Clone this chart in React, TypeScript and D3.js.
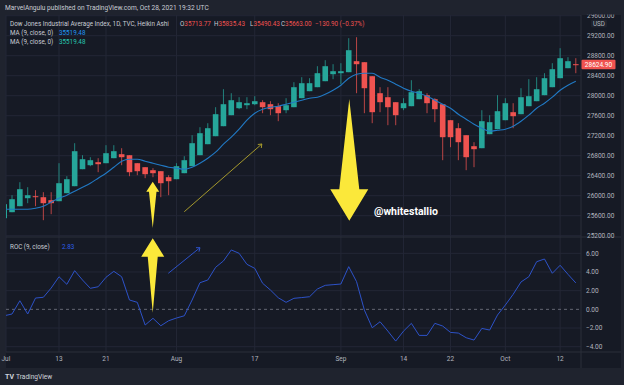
import React, { useEffect, useRef } from "react";
import * as d3 from "d3";

// Heikin Ashi candles, Jul 1 - Oct 14 (one entry per trading day)
const opens = [25550, 25670, 25790, 25950, 25990, 25970, 25910, 25890, 26050, 26190,
  26530, 26610, 26670, 26650, 26750, 26830, 26810, 26650, 26570, 26510,
  26490, 26370, 26330, 26450, 26590, 26810, 27030, 27190, 27390, 27610,
  27750, 27810, 27830, 27870, 27830, 27790, 27710, 27770, 27950, 28090,
  28170, 28290, 28430, 28450, 28470, 28690, 28670, 28390, 28050, 27970,
  27870, 27750, 27790, 27930, 28010, 27930, 27830, 27510, 27350, 27210,
  26990, 26950, 27230, 27330, 27510, 27670, 27630, 27790, 27890, 28010,
  28170, 28350, 28550, 28630];
const highs = [25950, 26010, 26270, 26170, 26110, 26070, 26070, 26650, 26390, 27050,
  26810, 26770, 26750, 27010, 27010, 26950, 26810, 26650, 26570, 26550,
  26490, 26410, 26650, 26790, 27210, 27370, 27450, 27770, 28130, 28050,
  27970, 27970, 27990, 27910, 27890, 27850, 27950, 28270, 28370, 28350,
  28590, 28710, 28630, 28650, 29150, 29170, 28670, 28390, 28170, 28170,
  27870, 27950, 28310, 28130, 28050, 27950, 27830, 27510, 27450, 27210,
  27070, 27710, 27610, 28010, 27950, 27850, 28150, 28330, 28370, 28450,
  28650, 28950, 28770, 28750];
const lows = [25550, 25670, 25790, 25850, 25790, 25510, 25630, 25890, 26050, 26190,
  26530, 26590, 26470, 26650, 26750, 26610, 26390, 26410, 26350, 26370,
  25970, 26010, 26330, 26450, 26590, 26810, 27030, 27190, 27390, 27610,
  27730, 27730, 27810, 27650, 27610, 27490, 27650, 27770, 27950, 28090,
  28170, 28290, 28330, 28230, 28470, 28050, 27650, 27450, 27670, 27410,
  27410, 27710, 27790, 27930, 27650, 27470, 26710, 26970, 26710, 26510,
  26570, 26950, 27230, 27330, 27510, 27350, 27630, 27790, 27890, 28010,
  28170, 28350, 28550, 28450];
const closes = [25830, 25930, 26130, 26010, 25970, 25850, 25850, 26250, 26330, 26890,
  26730, 26710, 26630, 26850, 26890, 26770, 26470, 26490, 26430, 26450,
  26250, 26290, 26590, 26710, 27050, 27250, 27350, 27630, 27830, 27910,
  27870, 27850, 27890, 27770, 27730, 27650, 27810, 28170, 28250, 28250,
  28450, 28590, 28490, 28490, 28910, 28630, 28150, 27670, 27870, 27770,
  27610, 27850, 28070, 28090, 27850, 27730, 27170, 27170, 27070, 26770,
  26930, 27490, 27470, 27690, 27850, 27590, 27970, 27990, 28130, 28350,
  28530, 28750, 28690, 28610];
const maValues = [25730, 25730, 25730, 25730, 25750, 25790, 25870, 25950, 26010, 26090,
  26170, 26250, 26350, 26450, 26570, 26690, 26730, 26730, 26690, 26650,
  26610, 26570, 26550, 26530, 26570, 26650, 26750, 26870, 27030, 27170,
  27330, 27510, 27650, 27730, 27770, 27790, 27830, 27870, 27910, 27950,
  27970, 28030, 28110, 28210, 28350, 28430, 28450, 28450, 28370, 28310,
  28230, 28150, 28090, 28050, 27990, 27910, 27830, 27750, 27630, 27530,
  27430, 27350, 27290, 27310, 27330, 27390, 27490, 27610, 27750, 27850,
  27970, 28110, 28210, 28290];
const rocValues = [-0.69, -0.5, 0.92, -0.5, 1.21, 1.29, 2.28, 3.49, 2.68, 4.14,
  3.14, 2.25, 2.42, 3.43, 4.07, 3.49, 1.0, 0.75, -1.68, -0.96,
  -1.76, -1.22, -0.93, -0.69, 1.0, 2.85, 3.14, 4.5, 5.18, 6.36,
  6.0, 4.82, 4.39, 2.79, 2.07, 1.24, 0.75, 1.18, 1.26, 1.35,
  2.18, 2.57, 2.64, 2.71, 4.57, 2.96, -0.08, -1.97, -1.33, -2.33,
  -3.4, -2.33, -1.5, -2.79, -2.79, -1.5, -1.79, -2.47, -2.54, -3.04,
  -3.29, -2.04, -2.22, -0.61, 0.46, 1.61, 2.93, 3.49, 5.1, 5.39,
  3.86, 4.72, 3.75, 2.83];

const priceTicks = [29600, 29200, 28800, 28400, 28000, 27600, 27200, 26800, 26400, 26000, 25600, 25200];
const rocTicks = [6, 4, 2, 0, -2, -4];
const dateTicks = [0, 7, 13, 22, 32, 43, 51, 57, 64, 71];
const dateLabels = ["Jul", "13", "21", "Aug", "17", "Sep", "14", "22", "Oct", "12"];
const lastPrice = 28624.9;

const GREEN = "#26a69a";
const RED = "#ef5350";
const FONT = "Roboto, sans-serif";

export default function App() {
  const ref = useRef<SVGSVGElement>(null);

  useEffect(() => {
    const svg = d3.select(ref.current);
    svg.selectAll("*").remove();

    const left = 6, right = 581;
    const priceTop = 15, priceBottom = 237, rocBottom = 352;

    const x = d3.scaleLinear().domain([0, closes.length - 1]).range([4.2, 575.8]);
    const yP = d3.scaleLinear().domain([25200, 29600]).range([235.7, 15.7]);
    const yR = d3.scaleLinear().domain([-4, 6]).range([346.7, 253.3]);

    // background
    svg.append("rect").attr("width", 624).attr("height", 385).attr("fill", "#1f232e");
    svg.append("rect").attr("x", left).attr("y", priceTop).attr("width", 621 - left).attr("height", 368 - priceTop).attr("fill", "#161a25");

    svg.append("text").attr("x", 5).attr("y", 9.5).attr("fill", "#c9ccd4")
      .style("font-family", FONT).style("font-size", "6.6px")
      .text("MarvelAngulu published on TradingView.com, Oct 28, 2021 19:32 UTC");

    const defs = svg.append("defs");
    defs.append("clipPath").attr("id", "clipPrice").append("rect")
      .attr("x", left).attr("y", priceTop).attr("width", right - left).attr("height", priceBottom - priceTop);
    defs.append("clipPath").attr("id", "clipRoc").append("rect")
      .attr("x", left).attr("y", priceBottom).attr("width", right - left).attr("height", rocBottom - priceBottom);
    defs.append("clipPath").attr("id", "clipAxis").append("rect")
      .attr("x", 0).attr("y", priceTop - 0.5).attr("width", 624).attr("height", 370);

    const gridColor = "#232736";

    // grid
    const grid = svg.append("g");
    grid.selectAll(".hp").data(priceTicks).join("line")
      .attr("x1", left).attr("x2", right).attr("y1", d => yP(d)).attr("y2", d => yP(d))
      .attr("stroke", gridColor);
    grid.selectAll(".hr").data(rocTicks.filter(d => d !== 0)).join("line")
      .attr("x1", left).attr("x2", right).attr("y1", d => yR(d)).attr("y2", d => yR(d))
      .attr("stroke", gridColor);
    grid.selectAll(".v").data(dateTicks).join("line")
      .attr("x1", d => Math.max(left, x(d))).attr("x2", d => Math.max(left, x(d))).attr("y1", priceTop).attr("y2", rocBottom)
      .attr("stroke", gridColor);

    // pane separators
    svg.append("line").attr("x1", left).attr("x2", 621).attr("y1", priceBottom).attr("y2", priceBottom).attr("stroke", "#2a2e3b");
    svg.append("line").attr("x1", left).attr("x2", 621).attr("y1", rocBottom).attr("y2", rocBottom).attr("stroke", "#2a2e3b");
    svg.append("line").attr("x1", right).attr("x2", right).attr("y1", priceTop).attr("y2", 368).attr("stroke", "#2a2e3b");

    // candles
    const pricePane = svg.append("g").attr("clip-path", "url(#clipPrice)");
    const idx = d3.range(closes.length);
    pricePane.selectAll(".wick").data(idx).join("line")
      .attr("x1", i => x(i)).attr("x2", i => x(i))
      .attr("y1", i => yP(highs[i])).attr("y2", i => yP(lows[i]))
      .attr("stroke", i => (closes[i] >= opens[i] ? GREEN : RED))
      .attr("stroke-opacity", 0.75);
    pricePane.selectAll(".body").data(idx).join("rect")
      .attr("x", i => x(i) - 2.8).attr("width", 5.6)
      .attr("y", i => yP(Math.max(opens[i], closes[i])))
      .attr("height", i => Math.max(1, Math.abs(yP(opens[i]) - yP(closes[i]))))
      .attr("fill", i => (closes[i] >= opens[i] ? GREEN : RED));

    // moving average
    const maLine = d3.line<number>().x((_, i) => x(i)).y(d => yP(d)).curve(d3.curveMonotoneX);
    pricePane.append("path").datum(maValues).attr("d", maLine)
      .attr("fill", "none").attr("stroke", "#2179c4").attr("stroke-width", 1.1);

    // annotations in the price pane
    pricePane.append("line")
      .attr("x1", x(23)).attr("y1", yP(25680)).attr("x2", x(32.9)).attr("y2", yP(27034))
      .attr("stroke", "#b3a62c").attr("stroke-width", 0.9);
    const ox = x(32.9), oy = yP(27034);
    pricePane.append("path")
      .attr("d", `M${ox - 4},${oy + 0.5} L${ox},${oy} L${ox - 0.5},${oy + 4}`)
      .attr("fill", "none").attr("stroke", "#b3a62c").attr("stroke-width", 0.9);

    const upArrow = (g: any, cx: number, tip: number, base: number, bottom: number, headW: number, shaftW: number) => {
      g.append("path")
        .attr("d", `M${cx},${tip} L${cx + headW / 2},${base} L${cx + shaftW / 2},${base} L${cx},${bottom} L${cx - shaftW / 2},${base} L${cx - headW / 2},${base} Z`)
        .attr("fill", "#fbe83a");
    };
    upArrow(pricePane, x(18.97), yP(26280), yP(26080), yP(25354), 13, 7.5);

    // big down arrow
    const dx = x(44.07);
    const dTop = yP(27934), dBase = yP(26128), dTip = yP(25500);
    pricePane.append("path")
      .attr("d", `M${dx},${dTop} L${dx + 10},${dBase} L${dx + 19},${dBase} L${dx},${dTip} L${dx - 19},${dBase} L${dx - 10},${dBase} Z`)
      .attr("fill", "#fbe83a");

    svg.append("text").attr("x", 374).attr("y", 214.5).attr("fill", "#ffffff")
      .style("font-family", FONT).style("font-size", "10.5px").style("font-weight", "bold")
      .text("@whitestallio");

    // ROC pane
    const rocPane = svg.append("g").attr("clip-path", "url(#clipRoc)");
    rocPane.append("line").attr("x1", left).attr("x2", right).attr("y1", yR(0)).attr("y2", yR(0))
      .attr("stroke", "#787b86").attr("stroke-dasharray", "3,3").attr("stroke-opacity", 0.8);
    const rocLine = d3.line<number>().x((_, i) => x(i)).y(d => yR(d));
    rocPane.append("path").datum(rocValues).attr("d", rocLine)
      .attr("fill", "none").attr("stroke", "#2d52c8").attr("stroke-width", 1);

    rocPane.append("line")
      .attr("x1", x(20.96)).attr("y1", yR(3.86)).attr("x2", x(25)).attr("y2", yR(6.6))
      .attr("stroke", "#2d52c8").attr("stroke-width", 1);
    const bx = x(25), by = yR(6.6);
    rocPane.append("path")
      .attr("d", `M${bx - 4},${by} L${bx},${by} L${bx - 1},${by + 4}`)
      .attr("fill", "none").attr("stroke", "#2d52c8").attr("stroke-width", 1);
    upArrow(svg, x(18.97), yR(7.61), yR(5.64), yR(-0.36), 23, 10);

    // axes
    const axisG = svg.append("g").attr("clip-path", "url(#clipAxis)")
      .style("font-family", FONT).style("font-size", "6.5px").attr("fill", "#b2b5be");
    axisG.selectAll(".pl").data(priceTicks).join("text")
      .attr("x", 587).attr("y", d => yP(d) + 2.3).text(d => d3.format(".2f")(d));
    axisG.selectAll(".rl").data(rocTicks).join("text")
      .attr("x", 586).attr("y", d => yR(d) + 2.3).text(d => d3.format(".2f")(d).replace("-", "\u2212"));
    axisG.selectAll(".dl").data(dateTicks).join("text")
      .attr("x", (d, i) => (i === 0 ? 1.5 : x(d))).attr("y", 360.5)
      .attr("text-anchor", (_, i) => (i === 0 ? "start" : "middle"))
      .text((_, i) => dateLabels[i]);

    // USD badge and last price
    svg.append("rect").attr("x", 591).attr("y", 19.5).attr("width", 16).attr("height", 8).attr("rx", 1.5).attr("fill", "#1f232e");
    svg.append("text").attr("x", 599).attr("y", 25.6).attr("text-anchor", "middle").attr("fill", "#b2b5be")
      .style("font-family", FONT).style("font-size", "6.3px").text("USD");
    svg.append("rect").attr("x", 581.5).attr("y", yP(lastPrice) - 4.8).attr("width", 34).attr("height", 9.6).attr("rx", 1).attr("fill", RED);
    svg.append("text").attr("x", 598.5).attr("y", yP(lastPrice) + 2.3).attr("text-anchor", "middle").attr("fill", "#ffffff")
      .style("font-family", FONT).style("font-size", "6.5px").text(lastPrice.toFixed(2));

    // legends
    const leg = svg.append("g").style("font-family", FONT).style("font-size", "6.3px");
    leg.append("text").attr("x", 10).attr("y", 26.2).attr("fill", "#c9ccd4").text("Dow Jones Industrial Average Index, 1D, TVC, Heikin Ashi");
    const ohlc = [["O", "35713.77", 180], ["H", "35835.43", 214], ["L", "35490.43", 250], ["C", "35663.00", 281]];
    ohlc.forEach(([k, v, px]) => {
      const t = leg.append("text").attr("x", px as number).attr("y", 26.2);
      t.append("tspan").attr("fill", "#c9ccd4").text(k as string);
      t.append("tspan").attr("fill", RED).text(v as string);
    });
    leg.append("text").attr("x", 315).attr("y", 26.2).attr("fill", RED).text("\u2212130.90 (\u22120.37%)");
    leg.append("text").attr("x", 10).attr("y", 34.6).attr("fill", "#c9ccd4").text("MA (9, close, 0)");
    leg.append("text").attr("x", 59).attr("y", 34.6).attr("fill", "#2196f3").text("35519.48");
    leg.append("text").attr("x", 10).attr("y", 43.6).attr("fill", "#c9ccd4").text("MA (9, close, 0)");
    leg.append("text").attr("x", 59).attr("y", 43.6).attr("fill", "#26c6b0").text("35519.48");
    leg.append("text").attr("x", 10).attr("y", 248.5).attr("fill", "#c9ccd4").text("ROC (9, close)");
    leg.append("text").attr("x", 62).attr("y", 248.5).attr("fill", "#2d5ee8").text("2.83");

    // footer
    const foot = svg.append("g").style("font-family", FONT).attr("fill", "#d1d4dc");
    foot.append("text").attr("x", 5).attr("y", 379).style("font-size", "7px").style("font-weight", "bold").text("TV");
    foot.append("text").attr("x", 16).attr("y", 379).style("font-size", "6.6px").text("TradingView");
  }, []);

  return <svg ref={ref} width={624} height={385} style={{ position: "fixed", left: 0, top: 0 }} />;
}
